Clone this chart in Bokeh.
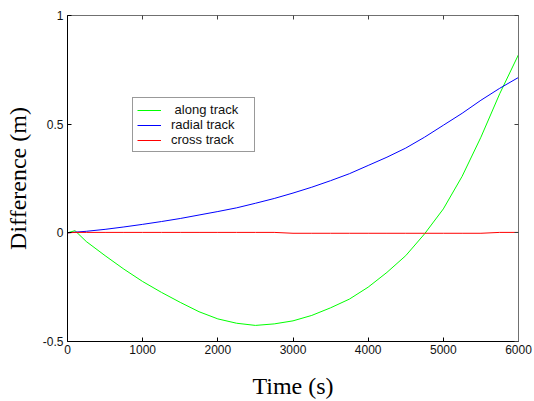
from bokeh.plotting import figure
from bokeh.models import (Range1d, FixedTicker, LinearAxis, Legend, LegendItem,
                          CustomJSTickFormatter)
from bokeh.embed import file_html
from bokeh.resources import INLINE

# Sample times (s)
time_s = [0, 100, 250, 500, 750, 1000, 1250, 1500, 1750, 2000, 2250, 2500, 2750,
          3000, 3250, 3500, 3750, 4000, 4250, 4500, 4750, 5000, 5250, 5500, 5750, 6000]

# Position differences (m)
along_track = [0.0, 0.01, -0.04, -0.105, -0.167, -0.224, -0.274, -0.32, -0.363, -0.396,
               -0.416, -0.426, -0.419, -0.405, -0.38, -0.345, -0.305, -0.25, -0.182,
               -0.105, -0.005, 0.11, 0.26, 0.44, 0.64, 0.82]
radial_track = [0.0, 0.003, 0.007, 0.016, 0.027, 0.039, 0.052, 0.066, 0.082, 0.098,
                0.115, 0.136, 0.158, 0.183, 0.21, 0.24, 0.272, 0.31, 0.348, 0.39,
                0.44, 0.495, 0.55, 0.61, 0.665, 0.715]
cross_track = [0.0, 0.002, 0.002, 0.002, 0.002, 0.002, 0.002, 0.002, 0.002, 0.002,
               0.002, 0.002, 0.002, -0.002, -0.002, -0.002, -0.002, -0.002, -0.002,
               -0.002, -0.002, -0.002, -0.002, -0.002, 0.002, 0.002]

series_names = [" along track", "radial track", "cross track"]
series_colors = ["#00ff00", "#0000ff", "#ff0000"]

x_ticks = [0, 1000, 2000, 3000, 4000, 5000, 6000]
y_ticks = [-0.5, 0, 0.5, 1]
y_tick_labels = ["-0.5", "0", "0.5", "1"]

x_title = "Time (s)"
y_title = "Difference (m)"

TICK_FONT = "Liberation Sans"
LABEL_FONT = "Liberation Serif"

p = figure(width=534, height=401, output_backend="svg", toolbar_location=None,
           x_range=Range1d(0, 6000), y_range=Range1d(-0.5, 1),
           x_axis_label=x_title, y_axis_label=y_title)
p.min_border_left = 67
p.min_border_right = 16
p.min_border_top = 15
p.min_border_bottom = 60
p.outline_line_color = None
p.background_fill_color = "white"
p.border_fill_color = "white"
p.xgrid.visible = False
p.ygrid.visible = False

renderers = []
for ys, c in zip([along_track, radial_track, cross_track], series_colors):
    r = p.line(time_s, ys, line_color=c, line_width=1)
    renderers.append(r)

# main axes: inward ticks, boxed style
for ax in (p.xaxis[0], p.yaxis[0]):
    ax.axis_line_color = "black"
    ax.major_tick_line_color = "black"
    ax.major_tick_in = 4
    ax.major_tick_out = 0
    ax.minor_tick_line_color = None
    ax.major_label_text_font = TICK_FONT
    ax.major_label_text_font_size = "12px"
    ax.major_label_text_color = "#111111"
    ax.axis_label_text_font = LABEL_FONT
    ax.axis_label_text_font_size = "24px"
    ax.axis_label_text_font_style = "normal"
    ax.axis_label_text_color = "black"

p.xaxis[0].ticker = FixedTicker(ticks=x_ticks)
p.yaxis[0].ticker = FixedTicker(ticks=y_ticks)
p.yaxis[0].major_label_overrides = dict(zip(y_ticks, y_tick_labels))
p.xaxis[0].major_label_standoff = 3
p.xaxis[0].axis_label_standoff = 16
p.yaxis[0].major_label_standoff = 4
p.yaxis[0].axis_label_standoff = 9

# top and right box edges with inward ticks, no labels
blank = CustomJSTickFormatter(code="return ''")
top = LinearAxis(ticker=FixedTicker(ticks=x_ticks), formatter=blank)
right = LinearAxis(ticker=FixedTicker(ticks=y_ticks), formatter=blank)
for ax in (top, right):
    ax.axis_line_color = "#707070"
    ax.major_tick_line_color = "#404040"
    ax.major_tick_in = 4
    ax.major_tick_out = 0
    ax.minor_tick_line_color = None
    ax.major_label_standoff = 0
p.add_layout(top, "above")
p.add_layout(right, "right")

legend = Legend(items=[LegendItem(label=n, renderers=[r]) for n, r in zip(series_names, renderers)],
                location=(65, 189))
legend.border_line_color = "#333333"
legend.border_line_width = 1
legend.background_fill_color = "white"
legend.background_fill_alpha = 1
legend.label_text_font = TICK_FONT
legend.label_text_font_size = "13px"
legend.label_text_color = "#111111"
legend.glyph_width = 24
legend.glyph_height = 14
legend.label_height = 14
legend.label_width = 79
legend.label_standoff = 10
legend.spacing = 0
legend.padding = 4
legend.margin = 0
p.add_layout(legend, "center")

open("out.html", "w").write(file_html(p, INLINE))
